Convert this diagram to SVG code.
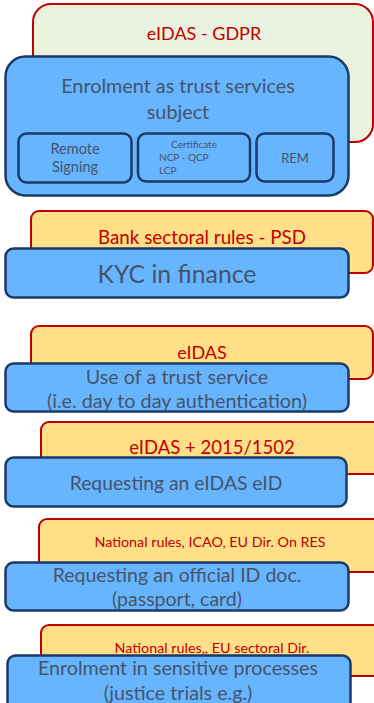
<svg xmlns="http://www.w3.org/2000/svg" width="374" height="703" viewBox="0 0 374 703">
<style>
.law{fill:#FFDF87;stroke:#C00000;stroke-width:2}
.lawg{fill:#EAF1DC;stroke:#C00000;stroke-width:2}
.proc{fill:#68B5FF;stroke:#1B3A68;stroke-width:2.5}
.sub{fill:#68B5FF;stroke:#1B3A68;stroke-width:2.5}
text{font-family:Lato,"Open Sans","Liberation Sans",sans-serif;text-anchor:middle}
.lt{fill:#C00000}
.pt{fill:#44546A}
</style>
<rect width="374" height="703" fill="#FFFFFF"/>
<g id="law-gdpr">
<rect class="lawg" x="33" y="4" width="340" height="138" rx="18"/>
<text class="lt" x="204" y="40" font-size="18">eIDAS - GDPR</text>
</g>
<g id="enrolment-tss">
<rect class="proc" x="5.5" y="56.5" width="343" height="139" rx="20"/>
<text class="pt" x="178" y="93" font-size="19.8">Enrolment as trust services</text>
<text class="pt" x="178" y="119" font-size="19.8">subject</text>
</g>
<g id="remote-signing">
<rect class="sub" x="18.5" y="133.5" width="113" height="49" rx="8"/>
<text class="pt" x="75" y="154" font-size="14.5">Remote</text>
<text class="pt" x="75" y="172" font-size="14.5">Signing</text>
</g>
<g id="certificate">
<rect class="sub" x="138" y="133.5" width="112" height="48" rx="8"/>
<text class="pt" x="194" y="148" font-size="10">Certificate</text>
<text class="pt" x="159" y="161" font-size="10" style="text-anchor:start">NCP - QCP</text>
<text class="pt" x="159" y="174" font-size="10" style="text-anchor:start">LCP</text>
</g>
<g id="rem">
<rect class="sub" x="256.5" y="133.5" width="77" height="48" rx="8"/>
<text class="pt" x="295" y="163" font-size="13">REM</text>
</g>
<g id="law-psd">
<rect class="law" x="31" y="211" width="342" height="62" rx="8"/>
<text class="lt" x="202" y="244" font-size="18.8">Bank sectoral rules - PSD</text>
</g>
<g id="kyc">
<rect class="proc" x="5.5" y="248.5" width="343" height="49" rx="8"/>
<text class="pt" x="177" y="283" font-size="24.8">KYC in finance</text>
</g>
<g id="law-eidas">
<rect class="law" x="31" y="326" width="342" height="53" rx="8"/>
<text class="lt" x="202" y="359" font-size="18">eIDAS</text>
</g>
<g id="use-trust-service">
<rect class="proc" x="5.5" y="363.5" width="343" height="48" rx="8"/>
<text class="pt" x="177" y="384" font-size="19.8">Use of a trust service</text>
<text class="pt" x="177" y="408" font-size="19.8">(i.e. day to day authentication)</text>
</g>
<g id="law-eidas-1502">
<rect class="law" x="41" y="422" width="345" height="52" rx="8"/>
<text class="lt" x="212" y="454" font-size="18.5">eIDAS + 2015/1502</text>
</g>
<g id="request-eid">
<rect class="proc" x="5.5" y="457.5" width="341" height="49" rx="8"/>
<text class="pt" x="176" y="490" font-size="19.3">Requesting an eIDAS eID</text>
</g>
<g id="law-national-icao">
<rect class="law" x="39" y="519" width="347" height="53" rx="8"/>
<text class="lt" x="210" y="547" font-size="14.3">National rules, ICAO, EU Dir. On RES</text>
</g>
<g id="request-official-id">
<rect class="proc" x="5.5" y="562.5" width="343" height="48" rx="8"/>
<text class="pt" x="177" y="582" font-size="19.5">Requesting an official ID doc.</text>
<text class="pt" x="177" y="606" font-size="19.5">(passport, card)</text>
</g>
<g id="law-national-sectoral">
<rect class="law" x="41" y="625" width="345" height="51" rx="8"/>
<text class="lt" x="212" y="653" font-size="14.3">National rules,, EU sectoral Dir.</text>
</g>
<g id="enrolment-sensitive">
<rect class="proc" x="7.5" y="655.5" width="343" height="60" rx="8"/>
<text class="pt" x="178" y="675" font-size="19.7">Enrolment in sensitive processes</text>
<text class="pt" x="178" y="700" font-size="19.7">(justice trials e.g.)</text>
</g>
<g id="connectors"></g>
</svg>
